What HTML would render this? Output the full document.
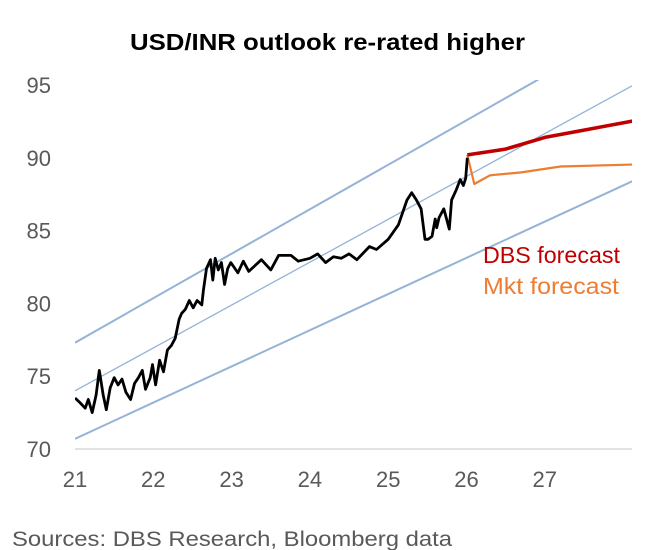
<!DOCTYPE html>
<html><head><meta charset="utf-8"><style>
body{margin:0;background:#fff;font-family:"Liberation Sans",sans-serif}
svg{display:block}
</style></head><body>
<svg width="649" height="550" id="chart">
<defs><clipPath id="pc"><rect x="75" y="80" width="557" height="370"/></clipPath></defs>
<text x="130" y="50" font-size="23" font-weight="bold" fill="#000" textLength="395" lengthAdjust="spacingAndGlyphs">USD/INR outlook re-rated higher</text>
<g id="yticks"></g>
<g id="xticks"></g>
<line x1="75" y1="449" x2="632" y2="449" stroke="#d9d9d9" stroke-width="1.5"/>
<g id="plot" clip-path="url(#pc)"></g>
<text x="483" y="263" font-size="23" fill="#c00000" textLength="137" lengthAdjust="spacingAndGlyphs">DBS forecast</text>
<text x="483" y="294" font-size="23" fill="#ed7d31" textLength="136" lengthAdjust="spacingAndGlyphs">Mkt forecast</text>
<text x="12" y="546" font-size="21" fill="#595959" textLength="440" lengthAdjust="spacingAndGlyphs">Sources: DBS Research, Bloomberg data</text>
</svg>
<script>
const yTicks=[70,75,80,85,90,95];
const xTicks=[21,22,23,24,25,26,27];
const spotX=[21.0,21.06,21.13,21.17,21.22,21.27,21.31,21.36,21.4,21.45,21.5,21.55,21.6,21.65,21.71,21.76,21.81,21.86,21.9,21.96,21.99,22.03,22.08,22.13,22.18,22.23,22.28,22.33,22.36,22.41,22.46,22.51,22.56,22.62,22.64,22.68,22.73,22.76,22.79,22.83,22.87,22.91,22.95,22.99,23.03,23.08,23.15,23.22,23.3,23.38,23.5,23.6,23.76,23.85,24.0,24.1,24.2,24.3,24.4,24.5,24.6,24.76,24.85,25.0,25.13,25.24,25.3,25.36,25.42,25.47,25.51,25.56,25.6,25.62,25.65,25.71,25.78,25.81,25.87,25.92,25.96,25.99,26.01];
const spotY=[73.5,73.2,72.8,73.4,72.5,73.7,75.4,73.7,72.7,74.2,74.9,74.4,74.8,73.9,73.4,74.5,74.9,75.4,74.1,74.9,75.8,74.4,76.1,75.3,76.8,77.1,77.6,78.9,79.3,79.6,80.2,79.7,80.2,79.9,80.9,82.4,83.0,81.6,83.1,82.3,82.8,81.3,82.4,82.8,82.5,82.1,82.9,82.2,82.6,83.0,82.3,83.3,83.3,82.9,83.1,83.4,82.8,83.2,83.1,83.4,83.0,83.9,83.7,84.4,85.4,87.1,87.6,87.1,86.5,84.4,84.4,84.6,85.8,85.2,85.9,86.5,85.1,87.1,87.8,88.5,88.1,88.6,90.0];
const channelX=[21,28.2];
const upperY=[77.3,99.3];
const midY=[74.0,95.2];
const lowerY=[70.7,88.6];
const fcX=[26.01,26.5,27.0,27.5,28.2];
const dbsY=[90.2,90.6,91.4,91.9,92.6];
const mktX=[26.01,26.1,26.3,26.7,27.2,28.2];
const mktY=[90.2,88.2,88.8,89.0,89.4,89.55];

const ns="http://www.w3.org/2000/svg";
const sx=v=>75+(v-21)*78.3;
const sy=v=>449-(v-70)*14.56;
function mk(tag,attrs,parent){const e=document.createElementNS(ns,tag);for(const k in attrs)e.setAttribute(k,attrs[k]);parent.appendChild(e);return e;}
const yg=document.getElementById('yticks'),xg=document.getElementById('xticks'),pg=document.getElementById('plot');
yTicks.forEach(t=>{const e=mk('text',{x:51,y:sy(t)+8,'text-anchor':'end','font-size':'22',fill:'#595959'},yg);e.textContent=t;

});
xTicks.forEach(t=>{const e=mk('text',{x:sx(t),y:487,'text-anchor':'middle','font-size':'22',fill:'#595959'},xg);e.textContent=t;

});
function line(xs,ys,color,w,name){const d=xs.map((x,i)=>(i?'L':'M')+sx(x).toFixed(1)+' '+sy(ys[i]).toFixed(1)).join(' ');
const p=mk('path',{d:d,fill:'none',stroke:color,'stroke-width':w,'stroke-linejoin':'round'},pg);

}
line(channelX,upperY,'#95b3d7',2,'upper-channel-line');
line(channelX,midY,'#95b3d7',1.3,'mid-channel-line');
line(channelX,lowerY,'#95b3d7',2,'lower-channel-line');
line(mktX,mktY,'#ed7d31',2.2,'mkt-forecast-line');
line(fcX,dbsY,'#c00000',3.5,'dbs-forecast-line');
line(spotX,spotY,'#000',2.8,'usdinr-spot-line');
</script>
</body></html>
